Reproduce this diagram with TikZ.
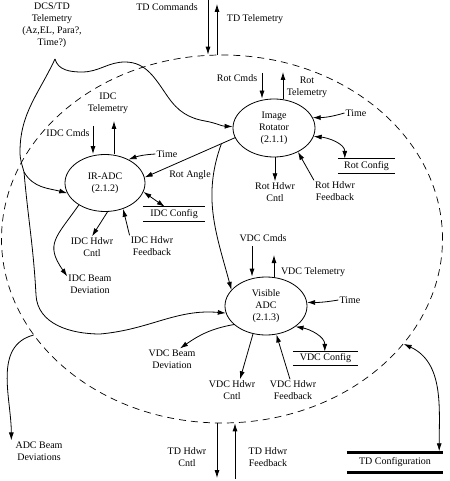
\documentclass[tikz,border=0pt]{standalone}
\usepackage{fontspec}
\setmainfont{Liberation Serif}
\usepackage{tikz}
\usetikzlibrary{arrows.meta,shapes.geometric,calc}

\begin{document}
\begin{tikzpicture}[x=1pt,y=-1pt]
      \tikzset { bubble/.style = { shape=ellipse,draw,line width=0.8pt,minimum width=82pt,minimum height=58pt,inner sep=0pt,align=center } }
      \tikzset { ctx/.style = { shape=ellipse,draw,line width=0.7pt,dash pattern=on 7pt off 5pt,minimum width=441pt,minimum height=368pt,inner sep=0pt } }
      \tikzset { lbl/.style = { inner sep=1pt,align=center } }
      \tikzset { store/.style = { inner sep=0pt,minimum height=14pt } }
      \tikzset { wire/.style = { line width=0.8pt } }
      \tikzset { edge/.style = { -{Latex[length=8pt,width=5pt]},line width=0.8pt } }
      \tikzset { edge2/.style = { {Latex[length=8pt,width=5pt]}-{Latex[length=8pt,width=5pt]},line width=0.8pt } }

      \useasboundingbox (0,0) rectangle (449,481);

      \node[ctx] (ctx) at (222,239) {};

      \node[bubble] (rot) at (274,128) {Image\\Rotator\\(2.1.1)};
      \node[bubble,minimum width=80pt,minimum height=57pt] (irc) at (105,183) {IR-ADC\\(2.1.2)};
      \node[bubble] (vis) at (266,306) {Visible\\ADC\\(2.1.3)};

      \node[store,minimum width=57pt] (rcfg) at (366.5,166) {Rot Config};
      \node[store,minimum width=62pt] (icfg) at (174,214) {IDC Config};
      \node[store,minimum width=65pt,minimum height=13pt] (vcfg) at (325.5,358.5) {VDC Config};
      \node[store,minimum width=96pt,minimum height=19pt] (tcfg) at (395,462.5) {TD Configuration};
      \foreach \s in {rcfg,icfg,vcfg} {
        \draw[wire] (\s.north west) -- (\s.north east) (\s.south west) -- (\s.south east);
      }
      \draw[line width=3pt] (tcfg.north west) -- (tcfg.north east) (tcfg.south west) -- (tcfg.south east);

      \node[lbl] (dcs) at (52,25) {DCS/TD\\Telemetry\\(Az,EL, Para?,\\Time?)};
      \node[lbl] (tdcmd) at (167,7) {TD Commands};
      \node[lbl] (tdtel) at (255,19) {TD Telemetry};
      \node[lbl] (rcmd) at (237,78) {Rot Cmds};
      \node[lbl] (rtel) at (307,87) {Rot\\Telemetry};
      \node[lbl] (rtime) at (356,113) {Time};
      \node[lbl] (rcntl) at (275,192) {Rot Hdwr\\Cntl};
      \node[lbl] (rfb) at (335,191) {Rot Hdwr\\Feedback};
      \node[lbl] (rang) at (190,175) {Rot Angle};
      \node[lbl] (icmd) at (68,133) {IDC Cmds};
      \node[lbl] (itel) at (108,103) {IDC\\Telemetry};
      \node[lbl] (itime) at (167,154) {Time};
      \node[lbl] (icntl) at (92,247) {IDC Hdwr\\Cntl};
      \node[lbl] (ifb) at (152,246) {IDC Hdwr\\Feedback};
      \node[lbl] (ibeam) at (90,284) {IDC Beam\\Deviation};
      \node[lbl] (vcmd) at (263,238) {VDC Cmds};
      \node[lbl] (vtel) at (313,272) {VDC Telemetry};
      \node[lbl] (vtime) at (350,300) {Time};
      \node[lbl] (vcntl) at (232,390) {VDC Hdwr\\Cntl};
      \node[lbl] (vfb) at (293,390) {VDC Hdwr\\Feedback};
      \node[lbl] (vbeam) at (172,359) {VDC Beam\\Deviation};
      \node[lbl] (tcntl) at (187,457) {TD Hdwr\\Cntl};
      \node[lbl] (tfb) at (268,457) {TD Hdwr\\Feedback};
      \node[lbl] (abeam) at (39,451) {ADC Beam\\Deviations};

      \coordinate (dcso) at (55,59);
      \coordinate (spl) at (24,172);
      \coordinate (tdc) at (208,0);
      \coordinate (tdt) at (217,4);
      \coordinate (rc) at (262,73);
      \coordinate (rt) at (283,72);
      \coordinate (ic) at (93,126);
      \coordinate (it) at (114,121);
      \coordinate (vc) at (252,246);
      \coordinate (vt) at (274,255);
      \coordinate (thc) at (217,478);
      \coordinate (thf) at (235,479);

      % flows across the boundary
      \draw[edge] (tdc) -- (ctx.north -| tdc);
      \draw[edge] (ctx.north -| tdt) -- (tdt);
      \draw[edge] (ctx.south -| thc) -- (thc);
      \draw[edge] (thf) -- (ctx.south -| thf);
      \draw[edge] (ctx.207) to[out=195,in=90] ([xshift=-3pt]abeam.north west);
      \draw[edge2] (ctx.-30) to[out=-25,in=90] ([xshift=-4pt,yshift=1.5pt]tcfg.north east);

      % DCS/TD telemetry
      \draw[edge] (dcso) to[out=-75,in=180] (82,72) to[out=0,in=180] (125,62)
                  to[out=0,in=125] (168,97) to[out=-55,in=170] (205,121) to[out=-10,in=178] (rot.178);
      \draw[wire] (dcso) to[out=-115,in=90] (20,152) to[out=-90,in=105] (spl);
      \draw[edge] (spl) to[out=-60,in=165] (irc.195);
      \draw[edge] (spl) to[out=-85,in=93] (36,295) to[out=-87,in=180] (100,334) to[out=5,in=175] (vis.190);

      % image rotator
      \draw[edge] (rc) -- (rc |- rot.north);
      \draw[edge] (rot.north -| rt) -- (rt);
      \draw[edge] (rtime.west) to[bend left=8] (rot.15);
      \draw[edge2] (rot.-12) to[out=-5,in=90] ([xshift=7pt]rcfg.north west);
      \draw[edge] (rot.south -| rcntl.north) -- (rcntl.north);
      \draw[edge] (rfb.north west) -- (rot.-45);
      \draw[edge] (rot.194) -- (irc.8);
      \coordinate (ra) at ($(rot.194)!0.15!(irc.8)$);
      \draw[edge] (ra) to[out=-110,in=105] (vis.155);

      % IR-ADC
      \draw[edge] (ic) -- (ic |- irc.north);
      \draw[edge] (irc.north -| it) -- (it);
      \draw[edge] (itime.west) to[bend right=8] (irc.45);
      \draw[edge2] (irc.-13) -- ([xshift=22pt]icfg.north west);
      \draw[edge] (irc.-85) -- (icntl.north);
      \draw[edge] (ifb.north west) -- (irc.-55);
      \draw[edge] (irc.-140) to[out=-125,in=125,looseness=1.4] ([yshift=-3pt]ibeam.north west);

      % visible ADC
      \draw[edge] (vc) -- (vc |- vis.north);
      \draw[edge] (vis.north -| vt) -- (vt);
      \draw[edge] (vtime.west) to[bend left=5] (vis.5);
      \draw[edge2] (vis.-35) to[out=-10,in=90] ([xshift=32pt]vcfg.north west);
      \draw[edge] (vis.-115) -- ([xshift=8pt]vcntl.north);
      \draw[edge] ([xshift=-3pt]vfb.north) -- (vis.-70);
      \draw[edge] (vis.-150) to[out=190,in=35] ([xshift=8pt]vbeam.north);

    \end{tikzpicture}
\end{document}
